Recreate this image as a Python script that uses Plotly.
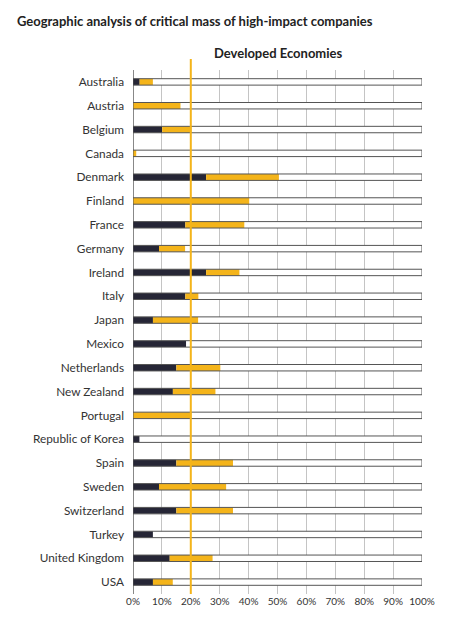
import plotly.graph_objects as go

countries = ["Australia", "Austria", "Belgium", "Canada", "Denmark", "Finland", "France",
             "Germany", "Ireland", "Italy", "Japan", "Mexico", "Netherlands", "New Zealand",
             "Portugal", "Republic of Korea", "Spain", "Sweden", "Switzerland", "Turkey",
             "United Kingdom", "USA"]
dark_share = [2.3, 0, 10.1, 0, 25.3, 0, 18.1, 9.0, 25.3, 18.1, 6.9, 18.4, 15.0, 13.8,
              0, 2.3, 15.0, 9.0, 15.0, 6.9, 12.7, 6.9]
orange_share = [4.6, 16.5, 10.2, 1.2, 25.2, 40.3, 20.5, 9.1, 11.6, 4.6, 15.7, 0, 15.3, 14.8,
                20.3, 0, 19.6, 23.3, 19.6, 0, 14.9, 6.9]
x_ticks = [0, 10, 20, 30, 40, 50, 60, 70, 80, 90, 100]
x_tick_labels = [f"{t}%" for t in x_ticks]
threshold = 20

DARK = "#262636"
ORANGE = "#F4B41A"
FONT = "Lato"

rest = [100 - d - o for d, o in zip(dark_share, orange_share)]
orange_base = dark_share
rest_base = [d + o for d, o in zip(dark_share, orange_share)]

fig = go.Figure()
fig.add_trace(go.Bar(y=countries, x=dark_share, base=[0] * len(countries), orientation="h",
                     marker=dict(color=DARK, line=dict(width=0)), width=0.27, hoverinfo="x+y"))
fig.add_trace(go.Bar(y=countries, x=orange_share, base=orange_base, orientation="h",
                     marker=dict(color=ORANGE, line=dict(width=0)), width=0.27))
fig.add_trace(go.Bar(y=countries, x=rest, base=rest_base, orientation="h",
                     marker=dict(color="white", line=dict(width=0)), width=0.27))
fig.add_trace(go.Bar(y=countries, x=[100] * len(countries), base=[0] * len(countries),
                     orientation="h",
                     marker=dict(color="rgba(0,0,0,0)", line=dict(color="#555555", width=1)),
                     width=0.27))

fig.add_shape(type="line", xref="x", yref="paper", x0=threshold, x1=threshold, y0=0, y1=1.021,
              line=dict(color=ORANGE, width=2), layer="above")

fig.add_annotation(text="<b>Geographic analysis of critical mass of high-impact companies</b>",
                   xref="paper", yref="paper", x=(15 - 133) / 289, y=(594 - 21) / 524,
                   xanchor="left", yanchor="middle", showarrow=False,
                   font=dict(family=FONT, size=13, color="#222222"))
fig.add_annotation(text="<b>Developed Economies</b>",
                   xref="x", yref="paper", x=threshold, xshift=21, y=(594 - 53) / 524,
                   xanchor="left", yanchor="middle", showarrow=False,
                   font=dict(family=FONT, size=13, color="#222222"))

fig.update_layout(
    width=450, height=622,
    margin=dict(l=133, r=28, t=70, b=28),
    barmode="overlay",
    showlegend=False,
    plot_bgcolor="white", paper_bgcolor="white",
    font=dict(family=FONT, color="#333333"),
    xaxis=dict(range=[0, 100], tickvals=x_ticks, ticktext=x_tick_labels,
               showgrid=True, gridcolor="#c4c4c4", gridwidth=1,
               zeroline=True, zerolinecolor="#888888", zerolinewidth=1,
               showline=False, ticks="", tickfont=dict(size=10, color="#333333"),
               fixedrange=True),
    yaxis=dict(categoryorder="array", categoryarray=countries, autorange="reversed",
               showgrid=False, zeroline=False, ticks="", ticklabelstandoff=8,
               tickfont=dict(size=11.8, color="#333333"), fixedrange=True),
)

fig.write_html("out.html")
